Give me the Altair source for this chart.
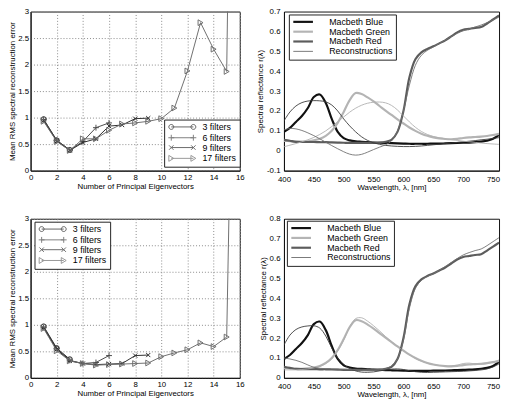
import altair as alt
import pandas as pd

FONT = "Liberation Sans"

# ---------------- Left panels: reconstruction error ----------------
eig = list(range(1, 17))
series_names = ["3 filters", "6 filters", "9 filters", "17 filters"]

top_3 = [0.97, 0.57, 0.39]
top_6 = [0.96, 0.57, 0.39, 0.55, 0.81, 0.90]
top_9 = [0.94, 0.56, 0.38, 0.53, 0.60, 0.84, 0.86, 0.98, 0.99]
top_17 = [0.93, 0.55, 0.38, 0.60, 0.60, 0.76, 0.88, 0.90, 0.93, 0.98,
          1.18, 1.88, 2.79, 2.29, 1.87, 20.0]

bot_3 = [0.97, 0.56, 0.35]
bot_6 = [0.95, 0.55, 0.33, 0.27, 0.29, 0.42]
bot_9 = [0.94, 0.54, 0.32, 0.27, 0.25, 0.26, 0.27, 0.42, 0.43]
bot_17 = [0.93, 0.51, 0.32, 0.27, 0.24, 0.25, 0.26, 0.27, 0.28, 0.40,
          0.47, 0.53, 0.66, 0.59, 0.77, 14.0]

err_ticks_x = [0, 2, 4, 6, 8, 10, 12, 14, 16]
err_ticks_y = [0, 0.5, 1, 1.5, 2, 2.5, 3]

# ---------------- Right panels: spectral reflectance ----------------
wl = list(range(400, 761, 10))

blue = [0.095, 0.115, 0.145, 0.175, 0.215, 0.270, 0.283, 0.240, 0.160, 0.095,
        0.063, 0.052, 0.047, 0.045, 0.043, 0.041, 0.040, 0.039, 0.038, 0.037,
        0.036, 0.035, 0.035, 0.035, 0.035, 0.036, 0.036, 0.037, 0.038, 0.039,
        0.040, 0.041, 0.043, 0.046, 0.050, 0.060, 0.080]
green = [0.050, 0.048, 0.046, 0.046, 0.048, 0.052, 0.060, 0.075, 0.100, 0.140,
         0.195, 0.255, 0.290, 0.285, 0.268, 0.248, 0.225, 0.202, 0.180, 0.158,
         0.137, 0.117, 0.100, 0.086, 0.075, 0.067, 0.062, 0.059, 0.058, 0.060,
         0.064, 0.067, 0.069, 0.071, 0.074, 0.079, 0.085]
red = [0.055, 0.050, 0.045, 0.044, 0.044, 0.044, 0.043, 0.043, 0.042, 0.041,
       0.040, 0.040, 0.040, 0.040, 0.040, 0.040, 0.041, 0.045, 0.055, 0.095,
       0.200, 0.370, 0.460, 0.495, 0.512, 0.525, 0.540, 0.555, 0.575, 0.595,
       0.608, 0.613, 0.618, 0.622, 0.640, 0.660, 0.680]

# reconstructions, top panel
top_blue_rec = [0.150, 0.195, 0.225, 0.242, 0.250, 0.252, 0.251, 0.246, 0.230, 0.200,
                0.160, 0.125, 0.095, 0.070, 0.052, 0.040, 0.032, 0.027, 0.024, 0.022,
                0.021, 0.021, 0.022, 0.024, 0.027, 0.030, 0.033, 0.036, 0.039, 0.042,
                0.045, 0.048, 0.051, 0.055, 0.058, 0.062, 0.066]
top_green_rec = [0.020, 0.028, 0.036, 0.045, 0.055, 0.067, 0.082, 0.100, 0.122, 0.146,
                 0.170, 0.194, 0.214, 0.229, 0.239, 0.244, 0.245, 0.241, 0.228, 0.205,
                 0.175, 0.145, 0.118, 0.097, 0.082, 0.072, 0.065, 0.060, 0.056, 0.052,
                 0.048, 0.045, 0.042, 0.039, 0.036, 0.034, 0.032]
top_red_rec = [0.105, 0.112, 0.110, 0.102, 0.090, 0.076, 0.060, 0.043, 0.026, 0.010,
               -0.005, -0.017, -0.022, -0.018, -0.007, 0.006, 0.018, 0.030, 0.050, 0.100,
               0.200, 0.330, 0.430, 0.480, 0.505, 0.522, 0.540, 0.556, 0.574, 0.590,
               0.603, 0.612, 0.622, 0.632, 0.644, 0.658, 0.672]

# reconstructions, bottom panel
bot_blue_rec = [0.165, 0.215, 0.243, 0.256, 0.261, 0.262, 0.250, 0.210, 0.150, 0.100,
                0.068, 0.047, 0.035, 0.029, 0.028, 0.030, 0.035, 0.040, 0.044, 0.045,
                0.042, 0.036, 0.031, 0.028, 0.027, 0.028, 0.029, 0.030, 0.031, 0.032,
                0.033, 0.035, 0.037, 0.040, 0.045, 0.055, 0.070]
bot_green_rec = [0.040, 0.040, 0.040, 0.042, 0.045, 0.050, 0.058, 0.072, 0.095, 0.135,
                 0.190, 0.255, 0.298, 0.302, 0.285, 0.262, 0.236, 0.208, 0.182, 0.158,
                 0.136, 0.116, 0.098, 0.084, 0.074, 0.067, 0.062, 0.059, 0.060, 0.064,
                 0.072, 0.074, 0.070, 0.068, 0.072, 0.080, 0.090]
bot_red_rec = [0.100, 0.095, 0.088, 0.078, 0.065, 0.053, 0.048, 0.046, 0.045, 0.044,
               0.043, 0.042, 0.040, 0.037, 0.036, 0.037, 0.040, 0.046, 0.060, 0.095,
               0.190, 0.350, 0.450, 0.490, 0.510, 0.523, 0.540, 0.560, 0.580, 0.600,
               0.618, 0.630, 0.640, 0.648, 0.665, 0.685, 0.705]

curve_names = ["Macbeth Blue", "Macbeth Green", "Macbeth Red", "Reconstructions"]
wl_ticks = [400, 450, 500, 550, 600, 650, 700, 750]
top_r_ticks = [-0.1, 0, 0.1, 0.2, 0.3, 0.4, 0.5, 0.6, 0.7]
bot_r_ticks = [0, 0.1, 0.2, 0.3, 0.4, 0.5, 0.6, 0.7, 0.8]

# ---------------- styling ----------------
LW, LH = 213, 162
RW, RH = 219, 162

ser_colors = ["#222222", "#4a4a4a", "#2e2e2e", "#6e6e6e"]
ser_shapes = ["circle", "M-1,0L1,0M0,-1L0,1", "M-1,-1L1,1M-1,1L1,-1", "triangle-right"]
ser_sizes = [26, 36, 18, 34]
leg_paths = [
    "M-4.5,0L4.5,0M-3.5,0A1,1 0 1,1 -5.5,0A1,1 0 1,1 -3.5,0M5.5,0A1,1 0 1,1 3.5,0A1,1 0 1,1 5.5,0",
    "M-4.5,0L4.5,0M-4.5,-1.2L-4.5,1.2M4.5,-1.2L4.5,1.2M-5.7,0L-3.3,0M3.3,0L5.7,0",
    "M-4.5,0L4.5,0M-5.4,-0.9L-3.6,0.9M-5.4,0.9L-3.6,-0.9M3.6,-0.9L5.4,0.9M3.6,0.9L5.4,-0.9",
    "M-4.5,0L4.5,0M-5.5,-1.2L-3.5,0L-5.5,1.2ZM3.5,-1.2L5.5,0L3.5,1.2Z",
]

LABEL_EXPR = "replace(format(datum.value, '~g'), '\u2212', '-')"


def left_panel(vals_list, lx, ly):
    xenc = alt.X("n:Q", scale=alt.Scale(domain=[0, 16], nice=False, zero=False),
                 axis=alt.Axis(values=err_ticks_x, title="Number of Principal Eigenvectors",
                               grid=True, gridDash=[1, 2], gridColor="#8a8a8a", ticks=False,
                               labelPadding=3, titlePadding=1, labelFlush=False))
    yenc = alt.Y("err:Q", scale=alt.Scale(domain=[0, 3], nice=False),
                 axis=alt.Axis(values=err_ticks_y, title="Mean RMS spectral reconstruction error",
                               grid=True, gridDash=[1, 2], gridColor="#8a8a8a", ticks=False,
                               labelPadding=2, titlePadding=1, labelExpr=LABEL_EXPR,
                               labelFlush=False))
    layers = []
    frames = []
    for name, vals, col, shp, sz in zip(series_names, vals_list, ser_colors, ser_shapes, ser_sizes):
        df = pd.DataFrame({"n": eig[:len(vals)], "err": vals, "series": name})
        frames.append(df)
        base = alt.Chart(df)
        layers.append(base.mark_line(color=col, strokeWidth=1, clip=True).encode(x=xenc, y=yenc))
        layers.append(base.mark_point(shape=shp, color=col, size=sz, filled=False,
                                      strokeWidth=1, clip=True, opacity=1).encode(x=xenc, y=yenc))
    all_df = pd.concat(frames)
    leg = alt.Legend(title=None, orient="none", legendX=lx, legendY=ly,
                     fillColor="white", strokeColor="#222222", padding=3,
                     labelFont=FONT, labelFontSize=9, labelColor="black",
                     symbolSize=25, symbolStrokeWidth=1, symbolOffset=11,
                     labelOffset=16, rowPadding=0)
    legend_layer = alt.Chart(all_df).mark_point(filled=False, strokeWidth=1, size=25).encode(
        x=xenc, y=yenc,
        color=alt.Color("series:N", scale=alt.Scale(domain=series_names, range=ser_colors), legend=leg),
        shape=alt.Shape("series:N", scale=alt.Scale(domain=series_names, range=leg_paths), legend=leg),
    ).transform_filter("false")
    layers.append(legend_layer)
    return alt.layer(*layers).properties(width=LW, height=LH)


orig_colors = ["#111111", "#b4b4b4", "#5c5c5c", "#6a6a6a"]
rec_colors = ["#3a3a3a", "#b0b0b0", "#707070"]
# legend glyphs: filled bars, thick for the measured spectra, thin for reconstructions
curve_paths = ["M-4,-0.44L4,-0.44L4,0.44L-4,0.44Z"] * 3 + ["M-4,-0.18L4,-0.18L4,0.18L-4,0.18Z"]


def right_panel(recs, ydom, yticks, lx, ly):
    xenc = alt.X("wl:Q", scale=alt.Scale(domain=[400, 760], nice=False, zero=False),
                 axis=alt.Axis(values=wl_ticks, title="Wavelength, \u03bb, [nm]", grid=False,
                               ticks=False, labelPadding=5, titlePadding=0, labelFlush=False))
    yenc = alt.Y("r:Q", scale=alt.Scale(domain=ydom, nice=False, zero=False),
                 axis=alt.Axis(values=yticks, title="Spectral reflectance r(\u03bb)", grid=False,
                               ticks=False, labelPadding=4, titlePadding=2, labelExpr=LABEL_EXPR,
                               labelFlush=False))
    layers = []
    frames = []
    for name, vals, col in zip(curve_names[:3], [blue, green, red], orig_colors[:3]):
        df = pd.DataFrame({"wl": wl, "r": vals, "curve": name})
        frames.append(df)
        layers.append(alt.Chart(df).mark_line(interpolate="catmull-rom", clip=True, color=col,
                                              strokeWidth=2.2).encode(x=xenc, y=yenc))
    for vals, col in zip(recs, rec_colors):
        df = pd.DataFrame({"wl": wl, "r": vals})
        layers.append(alt.Chart(df).mark_line(interpolate="catmull-rom", clip=True, color=col,
                                              strokeWidth=0.9).encode(x=xenc, y=yenc))
    leg = alt.Legend(title=None, orient="none", legendX=lx, legendY=ly,
                     fillColor="white", strokeColor="#222222", padding=3,
                     labelFont=FONT, labelFontSize=9, labelColor="black",
                     symbolSize=25, symbolOffset=7, symbolStrokeWidth=0,
                     labelOffset=22, rowPadding=0)
    legend_layer = alt.Chart(pd.concat(frames)).mark_point(filled=True, size=25, opacity=1,
                                                           strokeWidth=0).encode(
        x=xenc, y=yenc,
        color=alt.Color("curve:N", scale=alt.Scale(domain=curve_names, range=orig_colors), legend=leg),
        shape=alt.Shape("curve:N", scale=alt.Scale(domain=curve_names, range=curve_paths), legend=leg),
    ).transform_filter("false")
    layers.append(legend_layer)
    return alt.layer(*layers).properties(width=RW, height=RH)


tl = left_panel([top_3, top_6, top_9, top_17], 136, 110)
tr = right_panel([top_blue_rec, top_green_rec, top_red_rec], [-0.1, 0.7], top_r_ticks, 5, 3)
bl = left_panel([bot_3, bot_6, bot_9, bot_17], 4, 3)
br = right_panel([bot_blue_rec, bot_green_rec, bot_red_rec], [0, 0.8], bot_r_ticks, 3, 2)

chart = alt.concat(tl, tr, bl, br, columns=2, spacing={"row": 22, "column": 11}).resolve_scale(
    color="independent", shape="independent"
).resolve_legend(
    color="independent", shape="independent"
).properties(
    padding={"top": -5, "left": 0, "right": 0, "bottom": 0}, background="white"
).configure(font=FONT).configure_view(stroke="#111111", strokeWidth=1).configure_axis(
    labelFont=FONT, titleFont=FONT, labelFontSize=8, titleFontSize=8, titleFontWeight="normal",
    labelColor="black", titleColor="black", domainColor="#111111", domainWidth=1,
)

chart.save("out.html", embed_options={"renderer": "svg", "actions": False})
